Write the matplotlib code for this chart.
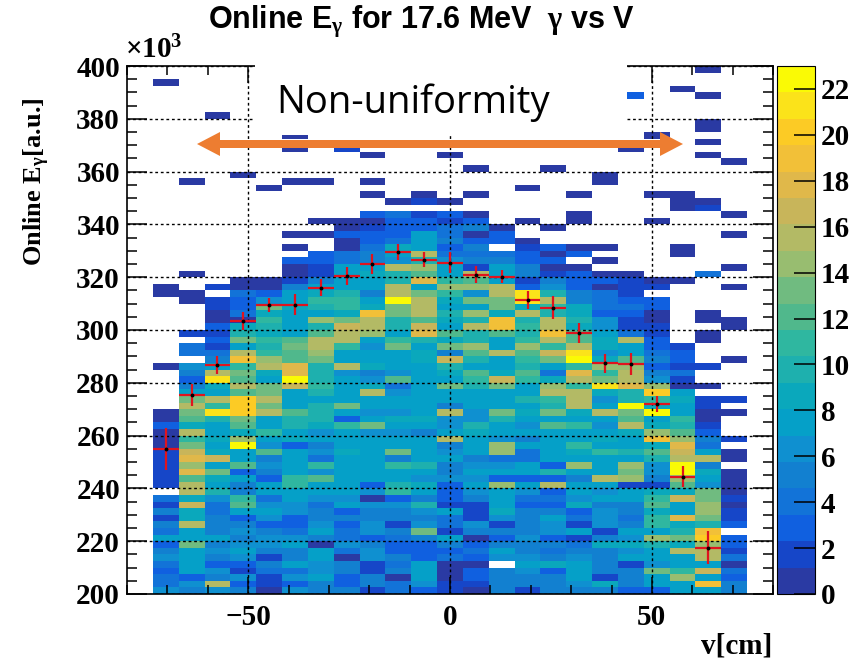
import numpy as np
import matplotlib
matplotlib.use("Agg")
import matplotlib.pyplot as plt
from matplotlib.colors import ListedColormap, Normalize
from matplotlib.patches import Polygon, Rectangle
from matplotlib.ticker import MultipleLocator

# bins
v_edges = np.arange(-73.6, 73.7, 6.4)
e_edges = np.arange(400, 199, -2.5)

# counts per bin, top row (400) first, columns from v=-73.6 to v=73.6
counts = [
 [0,0,0,0,0,0,0,0,0,0,0,0,0,0,0,0,0,0,0,0,0,1,0],
 [0,0,0,0,0,0,0,0,0,0,0,0,0,0,0,0,0,0,0,0,0,0,0],
 [1,0,0,0,0,0,0,0,0,0,0,0,0,0,0,0,0,0,0,0,0,0,0],
 [0,0,0,0,0,0,0,0,0,0,0,0,0,0,0,0,0,0,0,0,1,0,0],
 [0,0,0,0,0,0,0,0,0,0,0,0,0,0,0,0,0,0,3,0,0,1,0],
 [0,0,0,0,0,0,0,0,0,0,0,0,0,0,0,0,0,0,0,0,0,0,0],
 [0,0,0,0,0,0,0,0,0,0,0,0,0,0,0,0,0,0,0,0,0,0,0],
 [0,0,1,0,0,0,0,0,0,0,0,0,0,0,0,0,0,0,0,0,0,0,0],
 [0,0,0,0,0,0,0,0,0,0,0,0,0,0,0,0,0,0,0,0,0,1,0],
 [0,0,0,0,0,0,0,0,0,0,0,0,0,0,0,0,0,0,0,0,0,1,0],
 [0,0,0,0,0,1,0,0,0,0,0,0,0,0,0,0,0,0,0,1,0,0,0],
 [0,0,0,0,0,0,0,0,0,0,0,0,0,0,0,0,0,0,0,0,0,1,0],
 [0,0,0,0,0,1,0,2,0,0,0,0,0,0,0,0,0,0,1,0,0,0,0],
 [0,0,0,0,0,0,0,0,1,0,0,1,0,0,0,0,0,0,0,0,0,1,0],
 [0,0,0,0,0,0,0,0,0,0,0,0,0,0,0,0,0,0,0,0,0,0,1],
 [0,0,0,0,0,0,0,0,0,0,0,0,1,0,0,1,0,0,0,0,0,0,0],
 [0,0,0,1,0,0,0,0,0,0,0,0,0,0,0,0,0,1,0,0,0,0,0],
 [0,1,0,0,0,1,1,0,1,0,0,0,0,0,0,0,0,1,0,0,0,0,0],
 [0,0,0,0,1,0,0,0,0,0,0,0,0,0,1,0,0,0,0,0,0,0,0],
 [0,0,0,0,0,0,0,0,1,0,1,0,1,0,0,0,1,0,0,1,1,0,0],
 [0,0,0,0,0,0,0,0,0,1,2,1,0,0,0,0,0,0,0,0,1,1,0],
 [0,0,0,0,0,0,0,0,0,0,0,0,0,0,0,0,0,0,0,0,1,2,0],
 [0,0,0,0,0,0,0,0,3,4,2,3,1,0,0,0,1,0,0,0,0,0,1],
 [0,0,0,0,0,0,1,1,1,3,3,2,3,0,1,0,1,0,0,1,0,0,0],
 [0,0,0,0,0,0,0,1,2,3,3,4,5,1,0,1,0,0,0,0,0,0,0],
 [0,0,0,0,0,1,1,3,3,3,7,4,1,3,0,0,0,0,0,0,0,0,1],
 [0,0,0,0,0,0,0,1,3,4,7,5,3,3,1,0,0,0,0,0,0,0,0],
 [0,0,0,0,0,1,0,1,4,9,7,3,5,0,2,3,1,1,0,0,1,0,0],
 [0,0,0,0,0,0,3,4,5,7,15,4,4,4,3,1,3,0,0,0,1,0,0],
 [0,0,0,0,0,3,3,4,5,6,10,6,5,5,3,3,0,1,0,0,0,0,0],
 [0,0,0,0,0,1,2,7,8,15,14,7,2,7,5,1,1,0,0,0,0,0,1],
 [0,1,0,0,0,1,2,8,9,10,12,8,15,8,5,2,3,1,1,0,0,4,0],
 [0,0,0,1,1,2,5,8,7,10,18,11,12,7,2,5,3,3,2,1,1,0,0],
 [1,0,2,1,1,5,8,8,7,15,8,14,14,15,3,6,3,1,2,2,0,0,1],
 [1,1,0,4,3,8,9,10,5,15,13,11,6,15,21,10,5,4,2,0,0,0,0],
 [0,1,2,3,6,7,11,11,8,23,16,9,13,13,21,15,5,4,3,3,0,0,0],
 [0,0,2,3,13,9,10,11,9,13,15,8,8,13,9,11,9,4,4,3,0,0,0],
 [0,0,1,4,9,7,7,9,19,13,15,10,14,9,15,10,9,3,3,1,0,1,0],
 [0,0,1,1,11,8,14,13,16,10,12,9,10,19,10,15,10,6,2,1,0,1,1],
 [0,0,3,9,10,8,10,17,16,10,17,8,15,19,11,15,9,6,2,2,0,0,1],
 [0,2,2,10,9,7,12,15,14,8,18,12,10,12,10,19,12,8,4,2,0,1,0],
 [0,0,3,13,11,12,15,16,7,11,10,9,10,8,11,16,12,9,15,3,0,1,0],
 [0,4,2,8,10,13,15,11,6,13,8,13,14,7,14,11,15,9,8,3,2,0,0],
 [0,4,4,16,11,12,14,8,8,8,9,5,12,16,12,17,21,6,7,4,3,0,0],
 [0,0,5,19,14,12,13,8,8,7,9,17,10,8,11,13,23,9,12,5,3,0,1],
 [1,6,8,11,16,18,10,16,9,8,7,10,7,7,10,7,11,14,14,3,2,2,0],
 [0,5,15,13,9,18,10,6,5,6,7,9,12,9,12,4,18,11,15,5,4,0,0],
 [0,3,21,12,8,23,10,7,6,12,8,7,11,17,11,9,15,13,15,6,2,0,0],
 [0,5,9,15,13,17,11,8,9,4,8,13,10,13,8,14,11,21,18,14,1,1,0],
 [0,7,8,12,13,8,10,7,16,6,7,7,8,8,8,15,15,9,10,20,8,0,0],
 [0,13,15,20,15,7,8,8,8,7,7,7,8,8,10,11,15,6,10,11,9,2,2],
 [0,15,11,20,13,7,10,13,8,7,7,5,7,7,8,10,15,8,22,9,8,2,0],
 [1,13,21,20,16,12,10,8,6,6,8,15,6,13,9,13,9,15,13,22,8,1,1],
 [1,12,10,13,8,10,10,3,8,9,9,6,6,10,7,8,8,8,12,8,11,1,0],
 [3,9,8,12,8,10,9,11,13,7,7,6,10,8,6,12,11,6,15,9,10,2,0],
 [1,16,7,9,11,8,6,7,6,6,5,7,9,8,7,7,7,8,9,14,12,3,0],
 [1,11,9,14,8,9,8,8,8,8,7,15,8,6,5,7,7,9,7,19,14,5,2],
 [1,13,8,23,6,3,5,8,7,7,7,5,8,14,7,8,11,8,8,9,18,4,0],
 [2,17,9,8,12,7,6,9,8,13,7,6,7,14,4,7,9,11,10,12,17,8,1],
 [2,18,17,8,5,7,4,7,8,5,8,7,5,4,4,8,8,8,8,10,16,15,1],
 [2,14,8,12,6,8,11,8,8,11,10,5,6,6,7,3,14,7,14,6,22,5,0],
 [2,18,13,3,5,7,6,8,7,8,8,5,7,8,8,10,8,8,13,6,22,9,1],
 [2,12,9,7,3,11,12,8,8,7,6,6,6,3,3,3,5,15,14,5,14,8,1],
 [2,15,8,5,7,11,8,7,3,10,9,3,8,14,8,16,7,7,2,2,12,6,1],
 [0,15,10,5,7,8,8,8,6,11,8,3,6,7,6,3,7,6,7,9,9,13,1],
 [4,9,6,11,4,7,6,6,1,3,5,3,5,7,4,4,6,7,7,11,17,13,2],
 [2,17,4,12,6,6,4,7,6,6,10,2,2,7,3,3,9,5,5,12,8,14,1],
 [5,9,4,7,7,6,5,3,5,5,6,7,2,9,5,5,3,6,5,9,8,14,2],
 [2,9,5,3,6,3,5,5,5,5,5,4,2,6,5,7,4,6,4,11,18,13,2],
 [5,15,5,5,3,3,6,3,6,2,6,4,6,2,5,6,2,6,5,11,9,10,3],
 [4,8,5,6,5,4,7,4,6,5,13,2,5,5,5,6,7,2,7,8,10,19,0],
 [7,7,7,5,6,6,5,4,3,4,5,7,1,3,6,3,2,5,6,14,13,20,3],
 [3,13,5,6,6,8,1,6,5,3,3,5,3,5,5,5,4,9,9,10,9,14,3],
 [5,7,6,7,5,5,7,4,6,3,3,3,4,7,5,4,5,5,6,8,15,15,2],
 [6,7,5,6,2,5,7,1,6,5,3,4,3,6,6,5,6,5,7,7,8,15,4],
 [4,7,3,3,5,7,6,5,2,4,7,1,1,0,7,9,7,5,2,6,8,8,1],
 [3,7,6,2,4,4,6,5,2,5,7,1,3,5,6,3,7,5,5,13,11,17,4],
 [4,3,5,6,2,6,7,3,5,1,7,1,3,5,5,5,7,2,5,8,14,8,3],
 [4,6,15,3,2,3,5,3,5,4,6,2,2,5,5,5,6,9,5,7,8,19,5],
 [6,5,6,5,1,6,5,5,2,4,3,2,1,5,2,5,5,5,3,3,8,7,5],
]

# profile (red crosses)
prof_v = [-70.4, -64.0, -57.6, -51.2, -44.8, -38.4, -32.0, -25.6, -19.2, -12.8, -6.4, 0.0,
          6.4, 12.8, 19.2, 25.6, 32.0, 38.4, 44.8, 51.2, 57.6, 64.0]
prof_e = [255, 275.4, 286.8, 303.4, 309.5, 309.5, 316, 320.5, 325, 329.6, 326.6, 325.5,
          321, 320.2, 311.4, 308.5, 298.8, 287.4, 287, 272, 244.4, 217.5]
prof_err = [8, 4, 3.4, 3.4, 2.8, 4, 3.2, 3.5, 3.9, 3.1, 2.8, 4,
            3.2, 2.4, 3.3, 4.3, 3.7, 3.6, 4.1, 3.1, 3.9, 6.3]

palette = ["#2a3aa3", "#1646c8", "#1060e0", "#1273d8", "#1280d0", "#0f90d0", "#05a0c8",
           "#0aa8bc", "#1eb0ae", "#2fb7a0", "#50b88c", "#70bb80", "#98bd70", "#b3ba65",
           "#c8b55a", "#e0b84a", "#f2c038", "#fccb25", "#fbe31a", "#fafa05"]

W, H = 860, 663
plt.rcParams["font.family"] = "Liberation Serif"
plt.rcParams["font.weight"] = "bold"
plt.rcParams["mathtext.fontset"] = "custom"
plt.rcParams["mathtext.rm"] = "Liberation Serif:bold"
plt.rcParams["mathtext.it"] = "Liberation Serif:bold"
plt.rcParams["mathtext.bf"] = "Liberation Serif:bold"


def box(x0, y0, x1, y1):
    # pixel box (y from the top) to figure fractions
    return [x0 / W, 1 - y1 / H, (x1 - x0) / W, (y1 - y0) / H]


fig = plt.figure(figsize=(W / 100, H / 100), dpi=100)
ax = fig.add_axes(box(127, 66, 773, 594))
cax = fig.add_axes(box(777, 66, 815, 594))

cmap = ListedColormap(palette)
cmap.set_bad("white")
data = np.ma.masked_equal(np.array(counts), 0)
mesh = ax.pcolormesh(v_edges, e_edges, data, cmap=cmap, norm=Normalize(0, 23), zorder=1)

ax.set_xlim(-80, 80)
ax.set_ylim(200, 400)
ax.xaxis.set_major_locator(MultipleLocator(50))
ax.xaxis.set_minor_locator(MultipleLocator(10))
ax.yaxis.set_major_locator(MultipleLocator(20))
ax.yaxis.set_minor_locator(MultipleLocator(5))
ax.tick_params(which="both", direction="in", top=True, right=True, width=1.1, labelsize=21)
ax.tick_params(axis="y", which="major", length=14.5, pad=5)
ax.tick_params(axis="y", which="minor", length=7.2)
ax.tick_params(axis="x", which="major", length=12, pad=7)
ax.tick_params(axis="x", which="minor", length=6.5)
ax.set_axisbelow(False)
ax.grid(True, which="major", color="black", linestyle=(0, (2, 2)), linewidth=1.0, zorder=3)
for s in ax.spines.values():
    s.set_linewidth(1.2)

ax.errorbar(prof_v, prof_e, xerr=3.2, yerr=prof_err, fmt="none", ecolor="#e0141e",
            elinewidth=1.6, zorder=4)
ax.plot(prof_v, prof_e, ls="none", marker="o", ms=1.8, color="black", zorder=5)

cb = fig.colorbar(mesh, cax=cax)
cb.set_ticks(np.arange(0, 23, 2))
cb.ax.tick_params(direction="in", length=15, width=1.1, labelsize=21, pad=4)
cb.outline.set_linewidth(0.8)

fig.text(422 / W, 1 - 22 / H, r"Online E$_{\gamma}$ for 17.6 MeV  $\gamma$ vs V", family="Liberation Sans",
         weight="bold", fontsize=22, ha="center", va="center")
fig.text(37 / W, 1 - 182 / H, r"Online E$_{\gamma}$[a.u.]", rotation=90, fontsize=19, ha="center", va="center")
fig.text(772 / W, 1 - 646 / H, "v[cm]", fontsize=21, ha="right", va="center")
fig.text(125 / W, 1 - 50 / H, r"×10$^{3}$", fontsize=21, ha="left", va="center")

# white box behind the annotation, over the frame
fig.add_artist(Rectangle((255 / W, 1 - 135 / H), 372 / W, 73 / H, transform=fig.transFigure,
                         facecolor="white", edgecolor="none", zorder=6))
fig.text(413 / W, 1 - 103 / H, "Non-uniformity", family="Open Sans", weight="normal", fontsize=27.5,
         ha="center", va="center", zorder=7)

# double headed arrow outline, pixels from the top left
arrow_x = [197, 220, 220, 660, 660, 683, 660, 660, 220, 220]
arrow_y = [144, 132, 140, 140, 132, 144, 156, 148, 148, 156]
arrow_xy = [(x / W, 1 - y / H) for x, y in zip(arrow_x, arrow_y)]
fig.add_artist(Polygon(arrow_xy, closed=True, transform=fig.transFigure, facecolor="#ed7d31",
                       edgecolor="none", zorder=7))

fig.savefig("out.png", dpi=100)
